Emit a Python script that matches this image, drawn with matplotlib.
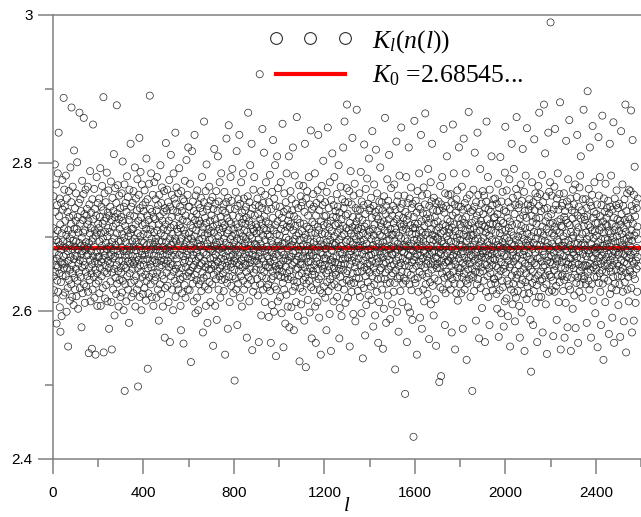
import numpy as np
import matplotlib
matplotlib.use("Agg")
import matplotlib.pyplot as plt
from matplotlib.lines import Line2D

# ---------------- data ----------------
# K_l(n(l)) for l = 1, 2, 3, ...
# each code c is in thousandths above 2.4:  K = 2.4 + c / 1000
K_CODES = [
"312 268 355 247 228 301 279 398 253 334 216 287 371 262 296 183 271 343 241 309 386 259 226 293 441 276 328 251 352 205 289 317 172 266 239 346 283 193 305 263 377 248 337 294 221 274 488 258 311 364",
"264 341 225 286 322 247 383 276 303 199 352 258 293 334 231 281 152 309 268 362 242 327 289 214 298 256 394 273 318 236 347 475 262 304 219 284 368 251 329 295 208 270 417 311 245 287 339 229 275 322",
"257 359 294 220 311 274 401 241 327 283 203 306 264 346 252 292 468 269 231 318 351 246 288 335 277 178 299 259 376 281 224 323 267 306 358 461 236 288 331 262 211 309 282 364 253 293 233 329 275 338",
"286 247 317 368 226 276 322 143 292 258 344 242 305 389 269 213 312 281 333 251 294 149 263 351 229 298 452 274 324 246 287 365 218 309 267 338 256 141 302 237 329 280 381 251 306 207 273 346 264 318",
"241 312 273 352 224 294 327 258 393 283 207 305 266 341 247 288 369 270 318 231 298 336 489 144 281 322 253 359 275 217 307 262 347 292 235 326 284 387 251 301 213 333 268 312 363 258 287 176 329 274",
"307 264 341 240 287 375 276 212 323 148 293 252 353 271 314 229 335 282 412 257 298 194 327 274 366 245 289 318 223 346 262 478 305 237 332 281 370 254 294 206 324 268 356 242 311 276 339 219 294 258",
"327 252 286 359 225 304 268 402 241 322 281 201 341 262 299 371 92 275 315 236 346 258 293 213 334 281 382 247 309 267 354 229 301 276 323 184 287 364 251 329 264 305 426 238 283 341 219 311 268 294",
"257 346 274 311 224 362 287 263 328 241 298 394 268 206 317 282 352 247 293 336 229 273 378 258 305 98 322 269 357 236 287 434 219 339 262 301 388 252 281 327 201 294 371 276 246 316 343 223 269 304",
"335 262 292 231 363 276 318 249 347 282 214 311 406 241 289 329 270 351 122 258 304 224 323 277 372 246 292 491 338 263 310 236 283 386 259 298 219 334 268 316 357 251 287 207 327 275 306 374 241 293",
"269 324 246 351 283 298 218 336 265 381 252 309 287 229 343 274 317 187 294 357 259 328 236 281 397 268 305 223 346 262 294 367 248 322 276 206 311 287 334 243 362 269 301 164 339 231 283 317 427 264",
"293 252 336 276 364 234 309 268 347 286 212 322 259 377 281 298 158 341 264 313 411 247 289 327 275 357 229 304 262 336 201 293 386 253 316 282 352 241 298 276 441 219 345 257 294 367 271 311 236 334",
"262 307 359 229 288 327 251 393 276 316 243 341 294 207 312 174 362 258 298 335 224 283 323 246 351 274 156 309 265 348 287 235 376 269 304 218 329 259 293 404 281 247 321 276 357 229 298 421 341 252",
"305 267 341 228 289 372 254 316 283 131 298 246 327 271 416 259 312 237 348 276 294 213 335 262 301 438 249 323 284 197 356 268 309 242 331 279 218 363 291 257 317 201 344 273 296 236 322 287 262 339",
"274 318 241 353 289 227 306 264 381 298 252 334 171 313 279 245 347 456 268 302 233 326 287 259 362 207 319 276 398 248 337 291 184 305 263 342 229 311 284 256 368 239 296 322 271 212 349 283 257 308",
"329 263 297 236 354 281 314 153 338 272 249 306 419 287 261 324 207 345 276 293 243 362 268 188 317 289 254 335 409 266 301 229 348 283 311 247 374 258 294 218 327 271 306 386 242 319 285 262 336 279",
"251 312 286 344 227 298 269 361 243 316 141 333 274 292 256 347 433 261 305 238 326 281 176 353 267 309 451 246 321 288 212 338 273 297 381 259 318 234 349 283 264 301 392 247 329 276 224 311 287 268",
"293 256 106 338 271 304 244 361 282 229 317 416 265 298 181 342 276 313 237 351 288 254 327 438 262 306 218 345 279 296 247 374 268 319 206 333 286 259 301 386 241 324 273 352 229 309 291 264 336 277",
"318 262 297 341 253 326 164 284 307 236 355 271 468 293 246 321 279 213 347 265 302 397 257 331 288 242 316 426 269 298 147 339 276 311 226 364 283 252 308 381 267 329 291 234 343 274 256 317 289 305",
"268 313 243 352 286 221 331 274 297 158 342 263 308 520 279 236 324 291 256 362 194 318 271 247 339 446 285 302 229 346 267 312 414 253 328 281 212 357 296 262 321 374 244 309 287 232 336 274 303 259",
"283 236 318 192 347 271 259 301 384 227 266 312 157 295 243 338 279 208 361 254 290 326 431 247 273 309 199 352 268 285 233 397 316 261 342 139 277 229 304 256 409 288 321 213 366 248 294 275 331 262",
"257 302 341 219 288 263 374 246 311 280 197 326 253 291 453 238 317 268 151 334 276 229 359 292 245 308 183 271 347 260 299 222 386 314 251 337 285 206 268 322 243 296 409 274 178 330 255 313 287 362",
"246 318 273 205 351 289 262 336 227 294 421 278 309 241 174 328 266 297 383 233 315 281 256 345 212 302 269 462 287 239 324 258 193 339 274 305 248 370 283 132 296 319 231 263 355 287 209 342 271 251",
"308 263 347 226 289 274 369 242 318 299 187 334 259 426 281 246 303 124 352 271 237 314 288 362 253 297 215 329 266 282 381 241 311 275 198 344 258 293 267 444 232 306 279 163 338 249 320 286 254 358",
"275 228 341 293 262 317 249 386 206 305 281 157 329 267 346 238 298 272 212 363 257 314 438 286 243 309 191 336 264 295 228 352 279 141 321 247 290 369 261 304 224 343 276 257 403 289 316 233 271 328",
"262 305 347 218 284 271 329 251 174 361 293 239 318 276 448 255 302 227 339 287 261 313 196 374 243 296 269 322 146 350 282 234 308 266 413 291 247 327 272 213 343 258 301 381 236 289 266 316 252 335",
"292 249 327 274 358 219 306 263 341 285 232 318 397 257 296 163 333 204 279 311 246 368 288 262 324 193 301 277 351 238 270 315 421 256 339 283 229 304 456 264 347 271 211 329 293 251 312 242 366 479",
"296 254 331 272 218 347 285 309 241 362 276 152 319 263 294 389 237 305 281 226 344 268 313 434 251 327 290 196 356 273 238 301 284 372 259 316 186 339 266 297 245 321 472 279 309 253 336 227 288 312",
"271 326 244 302 359 285 219 337 262 294 388 236 311 197 348 277 254 323 289 136 305 268 343 231 296 425 259 314 282 167 331 247 365 273 208 318 291 256 379 264 302 239 345 283 221 309 406 275 336 252",
"307 262 339 284 233 353 276 297 215 326 268 443 247 311 289 179 342 258 302 371 236 317 279 194 334 265 295 418 252 328 286 226 359 271 308 243 324 157 291 337 267 212 348 281 303 255 394 276 319 244",
"258 314 286 347 229 301 272 336 149 293 264 321 203 355 278 243 309 461 287 252 331 266 184 342 295 237 317 378 274 306 221 349 283 256 324 411 269 297 238 336 189 311 284 261 366 248 303 277 209 329",
"276 303 251 342 287 226 319 263 371 294 238 312 121 337 279 255 306 429 268 324 199 348 284 244 291 356 273 172 329 261 302 383 247 318 286 227 339 265 298 448 253 314 281 212 345 271 309 237 326 289",
"244 317 279 356 262 298 88 334 287 241 311 381 268 323 158 294 252 346 276 205 329 288 421 261 307 236 352 274 198 316 283 249 367 291 228 339 266 304 188 345 257 312 281 30 327 269 296 457 243 318",
"312 273 238 349 286 304 261 333 141 297 276 362 245 318 284 226 341 267 386 294 253 309 191 338 275 299 438 262 321 288 176 356 249 306 271 332 229 294 367 281 213 315 259 344 278 467 303 236 325 264",
"289 246 331 274 358 223 306 268 392 251 319 285 162 342 277 297 239 325 263 374 209 311 288 348 256 426 279 303 234 337 267 296 194 353 281 318 244 327 262 301 216 346 273 153 309 287 258 335 271 299",
"321 264 297 241 348 279 313 104 336 258 286 369 232 305 277 112 344 268 294 251 381 283 317 229 339 262 446 291 308 245 333 274 181 359 287 224 315 266 342 253 301 409 278 324 247 296 268 357 236 311",
"267 306 283 338 249 321 272 358 229 294 261 347 171 313 286 243 329 452 275 302 254 386 268 317 237 344 282 148 308 263 333 293 224 351 276 299 246 363 281 214 326 258 341 271 421 304 252 289 317 236",
"296 258 341 277 224 313 289 368 246 324 265 176 337 281 303 433 251 319 272 229 346 286 262 309 386 241 327 294 134 352 268 301 237 339 283 256 316 469 272 298 243 357 264 311 287 219 334 276 303 249",
"283 319 257 92 336 274 302 246 364 289 312 227 341 268 414 295 253 323 279 187 347 261 306 236 329 284 441 271 298 243 357 265 317 163 334 288 252 309 392 276 231 322 294 259 345 273 204 316 281 362",
"254 331 278 299 241 356 287 314 263 158 339 272 306 226 348 281 456 262 324 293 247 311 381 275 219 337 289 258 302 181 364 269 318 251 334 283 236 309 409 277 296 262 343 228 317 286 271 351 244 326",
"281 243 327 269 352 238 306 294 261 318 223 345 277 203 331 258 289 372 247 314 165 296 339 271 228 305 287 408 254 322 266 197 348 279 241 310 293 361 232 285 319 257 179 336 274 298 213 387 262 449",
"309 252 334 286 217 363 274 299 241 326 285 193 347 268 312 236 295 378 259 321 152 283 340 263 229 307 291 426 248 316 275 209 353 280 237 302 267 392 225 289 331 254 186 343 271 296 218 365 244 462",
"273 318 249 356 284 227 301 339 262 291 207 344 279 164 325 253 308 371 236 287 315 198 349 268 242 303 419 276 329 257 223 297 361 281 146 335 264 312 239 383 292 251 326 216 274 447 305 233 288 344",
"295 261 337 278 224 351 289 246 313 270 188 342 256 118 301 329 267 374 238 284 320 253 181 347 292 227 307 432 265 336 243 279 359 211 298 325 262 318 235 289 158 354 271 306 248 369 283 219 342 468",
"326 272 241 358 289 307 253 335 219 296 267 384 243 314 171 281 347 259 302 231 479 276 338 262 295 413 248 321 209 287 355 236 311 142 268 339 292 254 327 441 273 306 226 361 285 249 318 374 266 590",
"283 246 331 274 356 228 305 291 263 319 241 166 337 279 302 255 368 226 314 446 287 261 343 272 234 309 188 352 267 296 321 386 249 284 337 212 293 271 358 239 306 482 277 324 148 259 315 288 247 342",
"266 313 249 346 288 227 301 274 359 242 327 164 293 335 258 284 211 323 430 267 305 246 348 281 178 319 263 378 295 234 341 272 458 257 316 289 229 352 271 146 307 284 245 336 262 298 325 203 364 279",
"302 258 344 276 221 333 291 249 371 265 177 318 283 238 307 354 272 438 245 329 292 157 313 263 341 281 226 367 254 298 383 236 325 409 271 289 247 336 259 304 218 351 277 292 261 472 315 243 327 283",
"247 323 289 262 351 236 306 274 339 184 297 261 328 497 253 282 316 241 365 278 301 229 347 421 264 313 256 291 164 342 273 236 309 357 284 450 259 326 214 298 271 334 246 374 283 308 262 197 319 286",
"278 331 257 302 246 344 286 151 319 267 293 435 238 356 272 309 251 381 283 226 328 264 181 297 343 275 313 255 464 288 237 321 268 134 306 352 279 244 334 261 298 212 372 285 317 253 326 273 291 339",
"315 264 296 241 349 277 308 169 332 258 287 426 223 341 269 305 253 383 292 231 318 274 191 337 262 299 246 455 281 326 157 309 268 352 237 294 279 314 256 343 228 363 285 301 264 324 247 339 276 208",
"261 308 279 345 236 293 322 165 317 254 286 443 269 331 247 304 289 371 258 226 342 277 312 186 296 266 351 239 323 284 479 252 307 144 335 273 298 264 359 229 318 281 246 327 294 213 364 271 302 255",
"288 324 253 362 276 471 231 309 342 171 295 267 431 318 249 336 281 187 357 264 302 395 243 328 279 211 346 268 306 257 339 285 226 314 273 352 297 261",
]
K_CODE_BASE = 2.4
K_CODE_STEP = 0.001
K0 = 2.68545

X_TICKS = [0, 400, 800, 1200, 1600, 2000, 2400]
X_MINOR = [200, 600, 1000, 1400, 1800, 2200, 2600]
Y_TICKS = [2.4, 2.6, 2.8, 3.0]
Y_TICK_LABELS = ["2.4", "2.6", "2.8", "3"]
Y_MINOR = [2.5, 2.7, 2.9]
X_MAX = 2589
Y_LIM = (2.4, 3.0)

codes = np.array(" ".join(K_CODES).split(), dtype=float)
K_l = K_CODE_BASE + codes * K_CODE_STEP
l_vals = np.arange(1, len(K_l) + 1)

# ---------------- figure ----------------
plt.rcParams["mathtext.fontset"] = "custom"
plt.rcParams["mathtext.rm"] = "Liberation Serif"
plt.rcParams["mathtext.it"] = "Liberation Serif:italic"

W, H = 641, 517
fig = plt.figure(figsize=(W / 100, H / 100), dpi=100)
ax = fig.add_axes([53 / W, (H - 459) / H, (W - 53) / W, (459 - 15) / H])

GRAY = "#808080"

ax.axhline(K0, color="#ff0000", lw=3.0, zorder=2)
ax.scatter(l_vals, K_l, s=26, facecolors="none", edgecolors="#262626",
           linewidths=0.5, zorder=3)

ax.set_xlim(0, X_MAX)
ax.set_ylim(*Y_LIM)

for side in ["left", "top", "bottom"]:
    ax.spines[side].set_color(GRAY)
    ax.spines[side].set_linewidth(1.1)
ax.spines["right"].set_visible(False)

ax.set_xticks(X_TICKS)
ax.set_xticks(X_MINOR, minor=True)
ax.set_yticks(Y_TICKS)
ax.set_yticklabels(Y_TICK_LABELS)
ax.set_yticks(Y_MINOR, minor=True)

ax.tick_params(axis="both", which="major", direction="out", length=10.5,
               width=1.1, color=GRAY, labelsize=11, labelcolor="black")
ax.tick_params(axis="both", which="minor", direction="out", length=5.5,
               width=1.1, color=GRAY)
ax.tick_params(axis="x", which="major", pad=9)
ax.tick_params(axis="y", which="major", pad=4)
for lab in ax.get_xticklabels() + ax.get_yticklabels():
    lab.set_fontfamily("Liberation Sans")

ax.set_xlabel("l", fontfamily="Liberation Serif", fontstyle="italic",
              fontsize=15, labelpad=-2)

h_pts = Line2D([], [], ls="none", marker="o", mfc="none", mec="#303030",
               mew=0.8, ms=8.5)
h_line = Line2D([], [], color="#ff0000", lw=3.0)
leg = fig.legend([h_pts, h_line],
                 [r"$\mathit{K_l(n(l))}$", r"$K_0$ =2.68545..."],
                 loc="center left", bbox_to_anchor=(268 / W, 1 - 58 / H),
                 frameon=False, numpoints=3, handlelength=3.3,
                 handletextpad=0.75, labelspacing=0.35, borderpad=0,
                 borderaxespad=0, prop={"family": "Liberation Serif", "size": 18.5})

fig.savefig("out.png", dpi=100)
